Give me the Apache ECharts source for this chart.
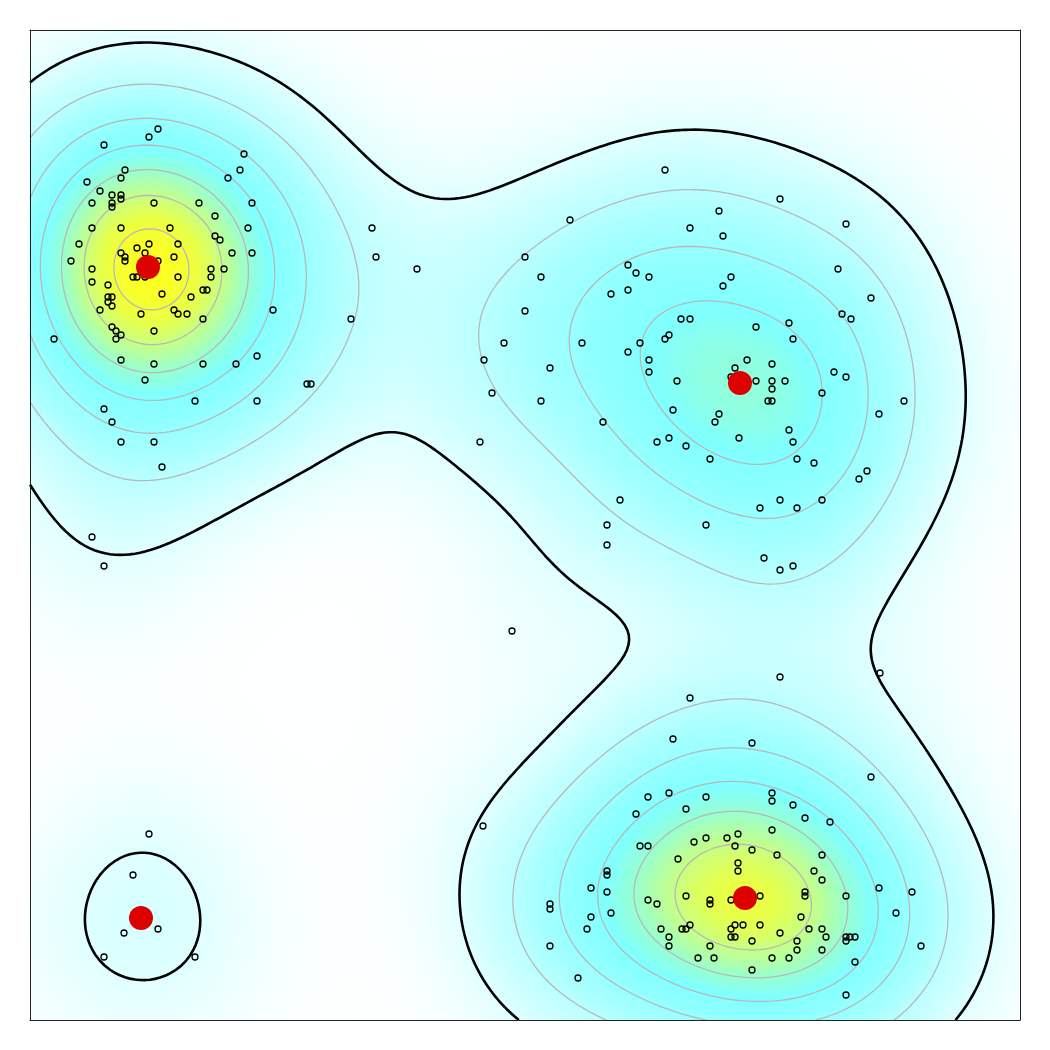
<!DOCTYPE html>
<html>
<head>
<meta charset="utf-8">
<script src="https://cdn.jsdelivr.net/npm/echarts@6/dist/echarts.min.js"></script>
<style>
  html, body { margin: 0; padding: 0; background: #fff; }
  #chart { width: 1050px; height: 1050px; }
</style>
</head>
<body>
<div id="chart"></div>
<script>
// --- observed points (plot units, both axes 0..99) ---
const clusterTopLeft = [
  [12.8,89.1],[11.9,88.3],[7.4,87.5],[21.4,86.6],[9.5,85.0],[21.0,85.0],[9.1,84.2],[5.7,83.8],[19.8,84.2],[7.0,82.9],
  [8.2,82.5],[9.1,82.5],[9.1,82.1],[6.2,81.7],[8.2,81.7],[8.2,81.3],[12.4,81.7],[16.9,81.7],[22.2,81.7],[18.5,80.4],
  [6.2,79.2],[9.1,79.2],[14.0,79.2],[21.8,79.2],[18.5,78.4],[19.0,78.0],[4.9,77.6],[11.9,77.6],[14.8,77.6],[10.7,77.2],
  [9.1,76.7],[11.5,76.7],[20.2,76.7],[22.2,76.7],[9.5,76.3],[9.5,75.9],[14.4,76.3],[4.1,75.9],[12.8,75.9],[6.2,75.1],
  [18.1,75.1],[19.4,75.1],[10.3,74.3],[10.7,74.3],[11.5,74.3],[14.8,74.3],[18.1,74.3],[6.2,73.8],[7.8,73.5],[17.3,73.0],
  [17.7,73.0],[13.2,72.6],[7.8,72.3],[8.2,72.3],[16.1,72.3],[7.8,71.8],[8.2,71.4],[7.0,71.0],[11.1,70.6],[14.4,71.0],
  [14.8,70.6],[15.7,70.6],[17.3,70.1],[24.3,71.0],[8.2,69.3],[8.6,68.9],[9.1,68.5],[8.6,68.1],[12.4,68.9],[2.4,68.1],
  [9.1,66.0],[12.4,65.6],[17.3,65.6],[20.6,65.6],[22.7,66.4],[11.5,64.0],[16.5,61.9],[22.7,61.9],[7.4,61.1],[8.2,59.8],
  [9.1,57.8],[12.4,57.8],[13.2,55.3]
];
const clusterTopRight = [
  [63.5,85.0],[54.0,80.0],[66.0,79.2],[49.5,76.3],[51.1,74.3],[59.8,75.5],[60.6,74.7],[61.9,74.3],[58.1,72.6],[59.8,73.0],
  [49.5,70.9],[65.1,70.1],[66.0,70.1],[63.9,68.5],[63.5,68.1],[47.4,67.7],[55.2,67.7],[61.0,67.7],[59.8,66.8],[45.4,66.0],
  [61.9,66.0],[61.9,64.8],[52.0,65.2],[64.7,63.9],[46.2,62.7],[51.1,61.9],[75.0,82.1],[68.9,80.9],[81.6,79.6],[69.3,78.4],
  [80.8,75.1],[70.1,74.3],[69.3,73.4],[84.1,72.2],[81.2,70.6],[82.1,70.1],[72.6,69.3],[75.9,69.7],[76.3,68.1],[71.7,66.0],
  [70.5,65.2],[74.2,65.6],[70.1,64.3],[72.6,63.9],[74.2,63.9],[75.5,63.9],[74.2,63.1],[80.4,64.8],[81.6,64.3],[79.2,62.7],
  [73.8,61.9],[74.2,61.9],[87.4,61.9],[45.0,57.8],[57.3,59.8],[64.3,61.0],[62.7,57.8],[63.9,58.2],[65.6,57.4],[59.0,52.0],
  [57.7,49.5],[57.7,47.5],[68.9,60.6],[68.5,59.8],[84.9,60.6],[75.9,59.0],[70.9,58.2],[76.3,57.8],[68.0,56.1],[76.7,56.1],
  [78.4,55.7],[83.7,54.9],[82.9,54.1],[75.0,52.0],[79.2,52.0],[73.0,51.2],[76.7,51.2],[67.6,49.5],[73.4,46.2],[76.3,45.4],
  [75.0,45.0]
];
const clusterBottomRight = [
  [66.0,32.2],[64.3,28.1],[61.8,22.3],[63.9,22.7],[67.6,22.3],[60.6,20.6],[65.6,21.1],[61.0,17.4],[61.8,17.4],[66.4,17.8],
  [67.6,18.2],[69.7,18.2],[70.5,17.4],[70.8,18.6],[75.0,34.3],[85.0,34.7],[72.2,27.7],[84.1,24.3],[74.2,22.7],[74.2,21.9],
  [76.3,21.5],[77.5,20.2],[80.0,19.8],[74.2,19.0],[72.2,17.0],[64.8,16.1],[70.8,15.7],[70.8,14.9],[57.7,14.9],[57.7,14.5],
  [56.1,13.2],[57.7,12.8],[61.8,12.0],[62.7,11.6],[65.6,12.4],[68.0,12.0],[68.0,11.6],[70.1,12.0],[52.0,11.6],[52.0,11.1],
  [58.1,10.7],[56.1,10.3],[55.7,9.1],[63.1,9.1],[65.2,9.1],[65.6,9.1],[66.0,9.5],[70.5,9.5],[70.1,9.1],[70.1,8.3],
  [70.5,8.3],[63.9,8.3],[63.9,7.4],[68.0,7.4],[52.0,7.4],[66.8,6.2],[68.4,6.2],[54.8,4.2],[74.7,16.5],[79.2,16.5],
  [78.4,14.9],[79.2,14.0],[84.9,13.2],[88.2,12.8],[77.5,12.8],[77.5,12.4],[81.6,12.4],[73.0,12.4],[86.6,10.7],[77.1,10.3],
  [71.3,9.5],[73.0,9.5],[75.0,8.7],[77.9,9.1],[79.2,9.1],[79.6,8.3],[72.2,7.9],[76.7,7.9],[81.6,8.3],[82.0,8.3],
  [82.5,8.3],[81.6,7.9],[89.1,7.4],[76.7,7.0],[79.2,7.0],[74.2,6.2],[75.9,6.2],[82.5,5.8],[72.2,5.0],[81.6,2.5]
];
const clusterBottomLeft = [[11.9,18.6],[10.3,14.5],[9.4,8.7],[12.8,9.1],[7.4,6.3],[16.5,6.3]];
const strayPoints = [
  [34.2,79.2],[34.6,76.3],[38.7,75.1],[32.1,70.1],[27.7,63.6],[28.1,63.6],[6.2,48.3],[7.4,45.4],[48.2,38.9],[45.3,19.4]
];

// cluster modes (red dots)
const modeX = [11.8, 71.0, 71.5, 11.1];
const modeY = [75.3, 63.7, 12.2, 10.2];

// kernel density settings
const bandwidth = 7.5;               // gaussian kernel sd, plot units
const cutLevel = 0.076;              // black level, fraction of peak density
const grayLevels = [0.185, 0.33, 0.475, 0.62, 0.77, 0.925];
const densityColors = ['#ffffff', '#ccffff', '#a8ffff', '#90ffff', '#80ffff', '#98ffd0', '#c0ff90', '#e8ff48', '#ffff20'];

const AXIS_MAX = 99;
const STEP = 0.5;

const allPoints = [].concat(clusterTopLeft, clusterTopRight, clusterBottomRight, clusterBottomLeft, strayPoints);

// separable gaussian sum on a grid
function densityGrid(gx, gy) {
  const z = gy.map(() => new Float64Array(gx.length));
  const k = 1 / (2 * bandwidth * bandwidth);
  allPoints.forEach(([px, py]) => {
    const ex = gx.map(x => Math.exp(-(x - px) * (x - px) * k));
    const ey = gy.map(y => Math.exp(-(y - py) * (y - py) * k));
    for (let j = 0; j < gy.length; j++) {
      const row = z[j], e = ey[j];
      if (e < 1e-9) continue;
      for (let i = 0; i < gx.length; i++) row[i] += e * ex[i];
    }
  });
  return z;
}

const nodes = [];
for (let v = 0; v <= AXIS_MAX + 1e-9; v += STEP) nodes.push(+v.toFixed(2));
const cells = [];
for (let v = STEP / 2; v < AXIS_MAX; v += STEP) cells.push(+v.toFixed(2));

const zNodes = densityGrid(nodes, nodes);
const zCells = densityGrid(cells, cells);

let peak = 0;
zNodes.forEach(r => r.forEach(v => { if (v > peak) peak = v; }));

const heatData = [];
for (let j = 0; j < cells.length; j++)
  for (let i = 0; i < cells.length; i++) heatData.push([i, j, zCells[j][i]]);

// marching squares -> chained polylines
function contour(z, gx, gy, level) {
  const pts = {};
  const segs = [];
  const hKey = (i, j) => {
    const key = 'h' + i + '_' + j;
    if (!pts[key]) {
      const a = z[j][i], b = z[j][i + 1], t = (level - a) / (b - a);
      pts[key] = [gx[i] + t * (gx[i + 1] - gx[i]), gy[j]];
    }
    return key;
  };
  const vKey = (i, j) => {
    const key = 'v' + i + '_' + j;
    if (!pts[key]) {
      const a = z[j][i], b = z[j + 1][i], t = (level - a) / (b - a);
      pts[key] = [gx[i], gy[j] + t * (gy[j + 1] - gy[j])];
    }
    return key;
  };
  for (let j = 0; j < gy.length - 1; j++) {
    for (let i = 0; i < gx.length - 1; i++) {
      const a = z[j][i], b = z[j][i + 1], c = z[j + 1][i + 1], d = z[j + 1][i];
      const idx = (a > level ? 1 : 0) | (b > level ? 2 : 0) | (c > level ? 4 : 0) | (d > level ? 8 : 0);
      if (idx === 0 || idx === 15) continue;
      const B = () => hKey(i, j), T = () => hKey(i, j + 1), L = () => vKey(i, j), R = () => vKey(i + 1, j);
      const mid = (a + b + c + d) / 4 > level;
      switch (idx) {
        case 1: case 14: segs.push([L(), B()]); break;
        case 2: case 13: segs.push([B(), R()]); break;
        case 3: case 12: segs.push([L(), R()]); break;
        case 4: case 11: segs.push([R(), T()]); break;
        case 6: case 9: segs.push([B(), T()]); break;
        case 7: case 8: segs.push([L(), T()]); break;
        case 5:
          if (mid) { segs.push([L(), T()]); segs.push([B(), R()]); }
          else { segs.push([L(), B()]); segs.push([R(), T()]); }
          break;
        case 10:
          if (mid) { segs.push([L(), B()]); segs.push([R(), T()]); }
          else { segs.push([B(), R()]); segs.push([L(), T()]); }
          break;
      }
    }
  }
  const adj = {};
  segs.forEach((s, k) => { (adj[s[0]] = adj[s[0]] || []).push(k); (adj[s[1]] = adj[s[1]] || []).push(k); });
  const used = new Array(segs.length).fill(false);
  const lines = [];
  const walk = (from, add) => {
    let end = from;
    for (;;) {
      const nk = (adj[end] || []).find(m => !used[m]);
      if (nk === undefined) break;
      used[nk] = true;
      end = segs[nk][0] === end ? segs[nk][1] : segs[nk][0];
      add(end);
    }
  };
  segs.forEach((s, k) => {
    if (used[k]) return;
    used[k] = true;
    const chain = [s[0], s[1]];
    walk(s[1], e => chain.push(e));
    walk(s[0], e => chain.unshift(e));
    lines.push({ coords: chain.map(key => pts[key]) });
  });
  return lines;
}

const grayLines = [].concat(...grayLevels.map(f => contour(zNodes, nodes, nodes, f * peak)));
const cutLines = contour(zNodes, nodes, nodes, cutLevel * peak);

const chart = echarts.init(document.getElementById('chart'), null, { renderer: 'canvas' });

const frameAxis = (pos) => ({
  gridIndex: 1,
  type: 'value',
  min: 0,
  max: AXIS_MAX,
  position: pos,
  z: 10,
  axisLine: { show: true, onZero: false, lineStyle: { color: '#222', width: 1 } },
  axisTick: { show: false },
  axisLabel: { show: false },
  splitLine: { show: false },
});

chart.setOption({
  backgroundColor: '#fff',
  animation: false,
  grid: [
    { left: 30, top: 30, width: 990, height: 990 },
    { left: 30, top: 30, width: 990, height: 990 },
  ],
  xAxis: [
    { gridIndex: 0, type: 'category', data: cells, show: false },
    frameAxis('bottom'),
    frameAxis('top'),
  ],
  yAxis: [
    { gridIndex: 0, type: 'category', data: cells, show: false },
    frameAxis('left'),
    frameAxis('right'),
  ],
  visualMap: {
    show: false,
    seriesIndex: 0,
    dimension: 2,
    min: 0,
    max: peak,
    inRange: { color: densityColors },
  },
  series: [
    {
      type: 'heatmap',
      xAxisIndex: 0, yAxisIndex: 0,
      data: heatData,
      progressive: 0,
      silent: true,
      emphasis: { disabled: true },
      z: 1,
    },
    {
      type: 'lines',
      coordinateSystem: 'cartesian2d',
      xAxisIndex: 1, yAxisIndex: 1,
      polyline: true,
      silent: true,
      data: grayLines,
      lineStyle: { color: '#b8b8b8', width: 1.3, opacity: 1, curveness: 0 },
      z: 2,
    },
    {
      type: 'lines',
      coordinateSystem: 'cartesian2d',
      xAxisIndex: 1, yAxisIndex: 1,
      polyline: true,
      silent: true,
      data: cutLines,
      lineStyle: { color: '#000', width: 2.6, opacity: 1, curveness: 0 },
      z: 3,
    },
    {
      type: 'scatter',
      xAxisIndex: 1, yAxisIndex: 1,
      data: allPoints,
      symbol: 'circle',
      symbolSize: 6,
      silent: true,
      itemStyle: { color: 'rgba(0,0,0,0)', borderColor: '#000', borderWidth: 1.3, opacity: 1 },
      z: 4,
    },
    {
      type: 'scatter',
      xAxisIndex: 1, yAxisIndex: 1,
      data: modeX.map((x, i) => [x, modeY[i]]),
      symbol: 'circle',
      symbolSize: 24,
      silent: true,
      itemStyle: { color: '#dd0000', opacity: 1 },
      z: 5,
    },
  ],
});
</script>
</body>
</html>
